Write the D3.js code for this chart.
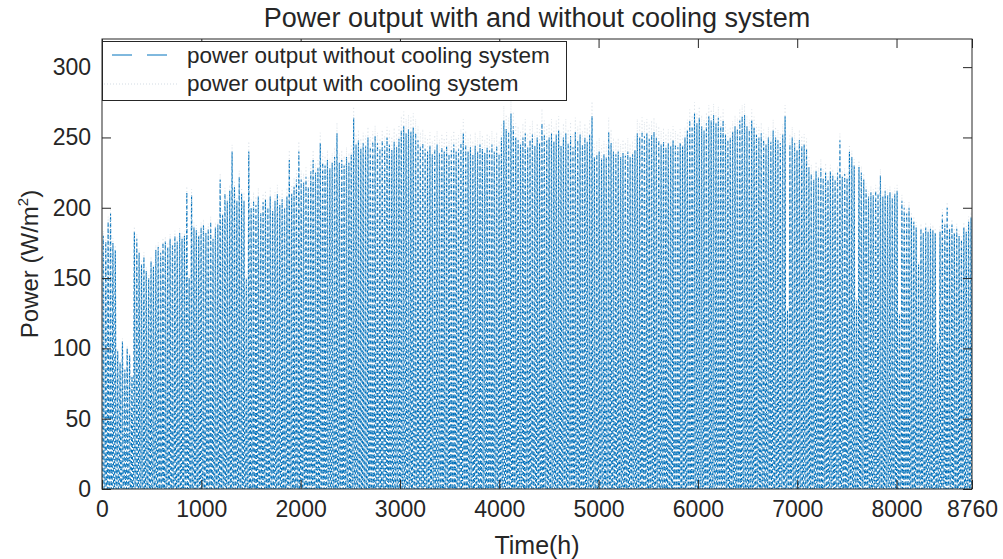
<!DOCTYPE html>
<html><head><meta charset="utf-8">
<script src="https://cdn.jsdelivr.net/npm/d3@7"></script>
<style>
html,body{margin:0;padding:0;background:#fff;}
svg text{font-family:"Liberation Sans",Arial,Helvetica,sans-serif;fill:#262626;}
</style></head>
<body><svg id="c" width="1003" height="559"></svg>
<script>
// Daily peak power without cooling (W/m^2), one value per day, read from the envelope
const dailyPeakWithout = [
180,176,190,196,175,170,
98,90,105,85,100,95,80,
183,178,
168,160,165,155,150,162,158,
170,172,168,175,176,172,178,174,180,176,182,178,
180,211,150,
209,186,
184,180,186,188,182,185,190,178,186,188,
220,195,
210,205,212,240,
215,205,222,
210,205,150,240,
200,205,202,208,196,204,206,200,208,198,205,210,202,206,200,208,
234,
210,215,220,240,
220,218,222,215,226,234,
225,228,246,
232,230,234,228,232,236,253,232,234,230,236,232,
238,264,
245,248,242,246,244,250,243,247,251,246,242,248,244,250,245,241,247,243,249,
255,258,253,256,254,257,253,
248,244,246,242,
240,244,238,242,245,239,243,240,244,238,241,245,240,
242,246,253,
245,240,243,
238,244,240,245,242,239,243,241,245,240,244,238,
250,262,256,254,267,258,
250,248,
245,250,253,243,248,252,244,250,246,
260,
252,248,250,253,
247,252,255,244,250,253,246,251,243,254,248,252,245,250,247,
252,265,
236,238,240,235,238,236,
254,246,
240,
238,240,236,239,237,240,236,238,241,
253,250,254,251,253,249,252,254,250,
248,
245,247,243,246,244,248,245,243,246,244,
250,255,
262,258,267,260,264,258,
255,260,
265,262,266,260,264,258,262,
252,248,
250,254,258,256,
262,265,266,258,255,262,257,
252,250,
253,248,245,250,247,255,
250,248,246,252,265,
127,
245,
250,246,241,248,244,245,242,
229,224,220,226,222,228,221,225,220,
226,
223,220,225,248,222,224,221,
240,236,
230,134,229,
225,220,
213,208,211,209,212,210,223,208,212,209,211,207,
210,212,125,
205,200,196,200,193,
190,
186,160,185,182,186,183,185,184,182,104,183,
195,188,200,
185,
188,182,185,180,177,186,183,190,193
];
// Normalised hourly shape of a day (fraction of the daily peak), hours 0..23
const hourlyShape = [0,0,0,0,0,0,0.04,0.18,0.38,0.58,0.76,0.89,0.97,1.0,0.95,0.83,0.66,0.46,0.24,0.07,0,0,0,0];
// Monthly ratio of output with cooling to output without cooling
const coolingGain = [1.02,1.02,1.03,1.03,1.04,1.04,1.04,1.04,1.03,1.03,1.02,1.02];
const monthDays = [31,28,31,30,31,30,31,31,30,31,30,31];
const xTicks = [0,1000,2000,3000,4000,5000,6000,7000,8000,8760];
const yTicks = [0,50,100,150,200,250,300];
const seriesNames = ["power output without cooling system","power output with cooling system"];

const svg = d3.select("#c");
const L=102,R=972,T=39,B=489;
const x = d3.scaleLinear().domain([0,8760]).range([L,R]);
const y = d3.scaleLinear().domain([0,320]).range([B,T]);

const monthOfDay = [];
monthDays.forEach((n,m)=>{for(let i=0;i<n;i++) monthOfDay.push(m);});
const without=[], withC=[];
dailyPeakWithout.forEach((p,d)=>{
  hourlyShape.forEach((s,h)=>{
    const t=d*24+h+1;
    without.push([t,p*s]);
    withC.push([t,p*s*coolingGain[monthOfDay[d]]]);
  });
});

svg.append("rect").attr("x",0).attr("y",0).attr("width",1003).attr("height",559).attr("fill","#fff");
svg.append("defs").append("clipPath").attr("id","pc").append("rect")
  .attr("x",L).attr("y",T).attr("width",R-L).attr("height",B-T);

const line = d3.line().x(d=>x(d[0])).y(d=>y(d[1]));
const g = svg.append("g").attr("clip-path","url(#pc)");
g.append("path").datum(without).attr("d",line).attr("fill","none")
  .attr("stroke","#0072BD").attr("stroke-width",1.1).attr("stroke-dasharray","4 2");
g.append("path").datum(withC).attr("d",line).attr("fill","none")
  .attr("stroke","#d2dbe3").attr("stroke-width",0.8).attr("stroke-opacity",0.8).attr("stroke-dasharray","1 2.5");

// axes
const tk=9;
const ax = svg.append("g").attr("transform",`translate(0,${B})`)
  .call(d3.axisBottom(x).tickValues(xTicks).tickFormat(d3.format("d")).tickSizeInner(-tk).tickSizeOuter(0).tickPadding(12));
const axT = svg.append("g").attr("transform",`translate(0,${T})`)
  .call(d3.axisTop(x).tickValues(xTicks).tickFormat("").tickSizeInner(-tk).tickSizeOuter(0));
const ay = svg.append("g").attr("transform",`translate(${L},0)`)
  .call(d3.axisLeft(y).tickValues(yTicks).tickSizeInner(-tk).tickSizeOuter(0).tickPadding(11));
const ayR = svg.append("g").attr("transform",`translate(${R},0)`)
  .call(d3.axisRight(y).tickValues(yTicks).tickFormat("").tickSizeInner(-tk).tickSizeOuter(0));
[ax,axT,ay,ayR].forEach(a=>{a.select(".domain").remove();a.selectAll("line").attr("stroke","#262626");});
ax.selectAll("text").attr("font-size",23).attr("fill","#262626");
ay.selectAll("text").attr("font-size",23).attr("fill","#262626");
svg.append("rect").attr("x",L).attr("y",T).attr("width",R-L).attr("height",B-T)
  .attr("fill","none").attr("stroke","#262626").attr("stroke-width",1);

// labels
svg.append("text").attr("x",(L+R)/2).attr("y",27).attr("text-anchor","middle")
  .attr("font-size",27).text("Power output with and without cooling system");
svg.append("text").attr("x",(L+R)/2).attr("y",554).attr("text-anchor","middle")
  .attr("font-size",25).text("Time(h)");
const yl = svg.append("text").attr("transform",`translate(38,${(T+B)/2}) rotate(-90)`)
  .attr("text-anchor","middle").attr("font-size",24);
yl.append("tspan").text("Power (W/m");
yl.append("tspan").attr("font-size",15).attr("dy",-10).text("2");
yl.append("tspan").attr("dy",10).text(")");

// legend
const lg = svg.append("g");
lg.append("rect").attr("x",102.5).attr("y",41.5).attr("width",464).attr("height",59)
  .attr("fill","#fff").attr("stroke","#262626").attr("stroke-width",1);
lg.append("line").attr("x1",112).attr("x2",172).attr("y1",55).attr("y2",55)
  .attr("stroke","#0072BD").attr("stroke-width",1).attr("stroke-dasharray","20 15");
lg.append("line").attr("x1",104).attr("x2",178).attr("y1",84).attr("y2",84)
  .attr("stroke","#d2dbe3").attr("stroke-width",1).attr("stroke-dasharray","1 2");
lg.append("text").attr("x",187).attr("y",63).attr("font-size",22.5).text(seriesNames[0]);
lg.append("text").attr("x",187).attr("y",91).attr("font-size",22.5).text(seriesNames[1]);
</script></body></html>
